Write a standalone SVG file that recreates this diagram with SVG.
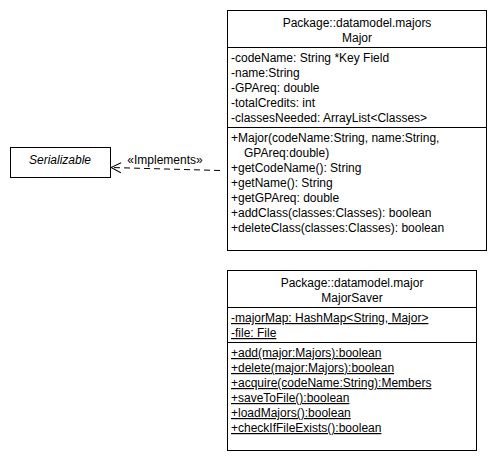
<svg xmlns="http://www.w3.org/2000/svg" width="496" height="460" viewBox="0 0 496 460">
  <defs>
    <style>
      text { font-family: "Liberation Sans", Arial, sans-serif; font-size: 12px; fill: #000; }
      .box { fill: #fff; stroke: #000; stroke-width: 1; }
      .sep { stroke: #000; stroke-width: 1; }
      .c { text-anchor: middle; }
      .u { text-decoration: underline; }
      .dep { fill: none; stroke: #000; stroke-width: 1; stroke-dasharray: 6 4; }
    </style>
    <marker id="open" viewBox="0 0 12 12" refX="11" refY="6" markerWidth="12" markerHeight="12" markerUnits="userSpaceOnUse" orient="auto">
      <path d="M1,1 L11,6 L1,11" fill="none" stroke="#000" stroke-width="1"/>
    </marker>
  </defs>
  <rect width="496" height="460" fill="#fff"/>

  <g id="connectors">
    <path class="dep" d="M220,170.5 L111,167.5" marker-end="url(#open)"/>
    <text x="165" y="164" class="c">«Implements»</text>
  </g>

  <g id="serializable">
    <rect class="box" x="10.5" y="147.5" width="100" height="30"/>
    <text x="60" y="164" class="c" font-style="italic">Serializable</text>
  </g>

  <g id="major">
    <rect class="box" x="227.5" y="10.5" width="259" height="240"/>
    <line class="sep" x1="227.5" y1="47.5" x2="486.5" y2="47.5"/>
    <line class="sep" x1="227.5" y1="127.5" x2="486.5" y2="127.5"/>
    <text x="357" y="26.5" class="c">Package::datamodel.majors</text>
    <text x="357" y="41.5" class="c">Major</text>
    <text x="231" y="62">-codeName: String *Key Field</text>
    <text x="231" y="77">-name:String</text>
    <text x="231" y="92">-GPAreq: double</text>
    <text x="231" y="107">-totalCredits: int</text>
    <text x="231" y="122">-classesNeeded: ArrayList&lt;Classes&gt;</text>
    <text x="231" y="142">+Major(codeName:String, name:String,</text>
    <text x="244" y="157">GPAreq:double)</text>
    <text x="231" y="172">+getCodeName(): String</text>
    <text x="231" y="187">+getName(): String</text>
    <text x="231" y="202">+getGPAreq: double</text>
    <text x="231" y="217">+addClass(classes:Classes): boolean</text>
    <text x="231" y="232">+deleteClass(classes:Classes): boolean</text>
  </g>

  <g id="majorSaver">
    <rect class="box" x="227.5" y="270.5" width="249" height="180"/>
    <line class="sep" x1="227.5" y1="307.5" x2="476.5" y2="307.5"/>
    <line class="sep" x1="227.5" y1="342.5" x2="476.5" y2="342.5"/>
    <text x="352" y="287" class="c">Package::datamodel.major</text>
    <text x="352" y="302" class="c">MajorSaver</text>
    <text x="231" y="322" class="u">-majorMap: HashMap&lt;String, Major&gt;</text>
    <text x="231" y="337" class="u">-file: File</text>
    <text x="231" y="357" class="u">+add(major:Majors):boolean</text>
    <text x="231" y="372" class="u">+delete(major:Majors):boolean</text>
    <text x="231" y="387" class="u">+acquire(codeName:String):Members</text>
    <text x="231" y="402" class="u">+saveToFile():boolean</text>
    <text x="231" y="417" class="u">+loadMajors():boolean</text>
    <text x="231" y="432" class="u">+checkIfFileExists():boolean</text>
  </g>
</svg>
